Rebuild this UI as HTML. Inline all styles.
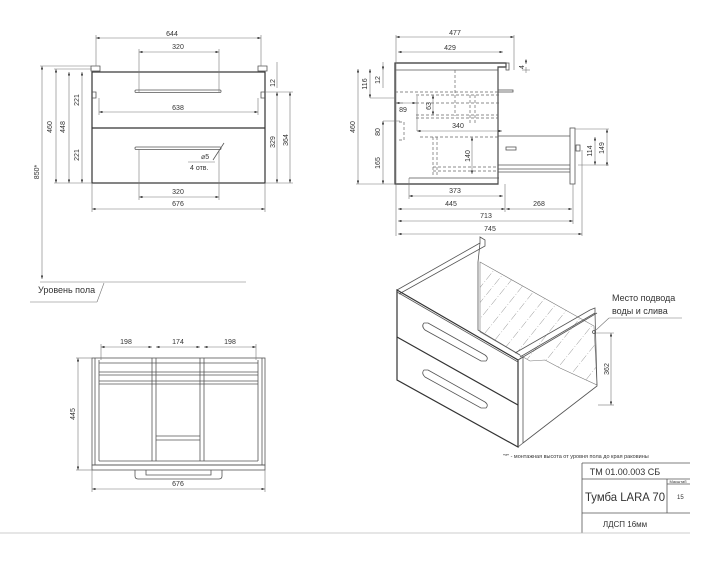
<!DOCTYPE html>
<html><head><meta charset="utf-8"><style>
html,body{margin:0;padding:0;background:#fff;}
svg{display:block;}
text{font-family:"Liberation Sans","DejaVu Sans",sans-serif;fill:#333;font-size:7px;}
.l{stroke:#555;stroke-width:0.8;fill:none;}
.t{stroke:#333;stroke-width:1.2;fill:none;}
.d{stroke:#777;stroke-width:0.6;fill:none;}
.ds{stroke:#666;stroke-width:0.7;fill:none;stroke-dasharray:3 2;}
.h{stroke:#888;stroke-width:0.5;fill:none;stroke-dasharray:8 2 1 2;}
</style></head><body>
<svg width="720" height="563" viewBox="0 0 720 563" xmlns="http://www.w3.org/2000/svg">
<defs><marker id="a" viewBox="0 0 6 4" refX="6" refY="2" markerWidth="6" markerHeight="4" orient="auto-start-reverse"><path d="M0,0L6,2L0,4z" fill="#333"/></marker>
<clipPath id="hc"><polygon points="480,262 594,326 597,385 560,368 545,360 530,361 480,332"/></clipPath></defs>

<!-- FRONT VIEW -->
<path class="l" d="M91,66h9v5h-9z M258,66h9v5h-9z"/>
<rect class="t" x="92" y="72" width="173" height="111"/>
<line class="t" x1="92" y1="128" x2="265" y2="128"/>
<rect class="l" x="135" y="90" width="86" height="2.5" rx="1"/>
<rect class="l" x="135" y="147" width="86" height="2.5" rx="1"/>
<path class="l" d="M92,92h4v6h-4 M265,92h-4v6h4"/>
<line class="l" x1="213" y1="160" x2="224" y2="143"/>
<text x="201" y="159">⌀5</text><text x="190" y="170">4 отв.</text>
<line class="d" x1="188" y1="162" x2="215" y2="162"/>
<g class="d">
<line x1="96" y1="38" x2="261" y2="38" marker-start="url(#a)" marker-end="url(#a)"/>
<line x1="96" y1="35" x2="96" y2="66"/><line x1="261" y1="35" x2="261" y2="66"/>
<line x1="139" y1="52" x2="219" y2="52" marker-start="url(#a)" marker-end="url(#a)"/>
<line x1="139" y1="49" x2="139" y2="92"/><line x1="219" y1="49" x2="219" y2="92"/>
<line x1="99" y1="112" x2="258" y2="112" marker-start="url(#a)" marker-end="url(#a)"/>
<line x1="99" y1="98" x2="99" y2="115"/><line x1="258" y1="98" x2="258" y2="115"/>
<line x1="139" y1="197" x2="219" y2="197" marker-start="url(#a)" marker-end="url(#a)"/>
<line x1="139" y1="149" x2="139" y2="200"/><line x1="219" y1="149" x2="219" y2="200"/>
<line x1="92" y1="209" x2="265" y2="209" marker-start="url(#a)" marker-end="url(#a)"/>
<line x1="92" y1="183" x2="92" y2="212"/><line x1="265" y1="183" x2="265" y2="212"/>
<line x1="42" y1="66" x2="42" y2="279" marker-start="url(#a)" marker-end="url(#a)"/>
<line x1="56" y1="69" x2="56" y2="183" marker-start="url(#a)" marker-end="url(#a)"/>
<line x1="69" y1="72" x2="69" y2="183" marker-start="url(#a)" marker-end="url(#a)"/>
<line x1="82" y1="72" x2="82" y2="183" marker-start="url(#a)" marker-end="url(#a)"/>
<line x1="40" y1="66" x2="91" y2="66"/><line x1="54" y1="69" x2="92" y2="69"/><line x1="54" y1="183" x2="92" y2="183"/>
<line x1="277" y1="62" x2="277" y2="88"/>
<line x1="277" y1="92" x2="277" y2="183" marker-start="url(#a)" marker-end="url(#a)"/>
<line x1="290" y1="92" x2="290" y2="183" marker-start="url(#a)" marker-end="url(#a)"/>
<line x1="265" y1="92" x2="293" y2="92"/><line x1="265" y1="183" x2="293" y2="183"/>
<line x1="40" y1="282" x2="246" y2="282"/>
<line x1="30" y1="302" x2="97" y2="302"/><line x1="97" y1="302" x2="104" y2="283"/>
</g>
<text x="172" y="36" text-anchor="middle">644</text>
<text x="178" y="49" text-anchor="middle">320</text>
<text x="178" y="110" text-anchor="middle">638</text>
<text x="178" y="194" text-anchor="middle">320</text>
<text x="178" y="206" text-anchor="middle">676</text>
<text x="38" y="293" style="font-size:9px">Уровень пола</text>
<g text-anchor="middle">
<text transform="translate(39,172) rotate(-90)">850*</text>
<text transform="translate(52,127) rotate(-90)">460</text>
<text transform="translate(65,127) rotate(-90)">448</text>
<text transform="translate(79,100) rotate(-90)">221</text>
<text transform="translate(79,155) rotate(-90)">221</text>
<text transform="translate(275,83) rotate(-90)">12</text>
<text transform="translate(275,142) rotate(-90)">329</text>
<text transform="translate(288,140) rotate(-90)">364</text>
</g>

<!-- SIDE VIEW -->
<path class="t" d="M395,63h111v4h-8v117h-103z"/>
<line class="l" x1="395" y1="70" x2="498" y2="70"/>
<line class="l" x1="498" y1="67" x2="498" y2="184"/>
<rect class="l" x="506" y="63" width="3" height="7"/>
<rect class="l" x="498" y="90" width="15" height="2"/>
<rect class="l" x="506" y="147" width="10" height="3"/>
<path class="ds" d="M455,70v46 M395,92h103 M416,95h85 M416,103h85 M416,115h82 M416,118h82 M470,95v30 M475,95v30 M395,103h10 M420,137h78 M433,137v40 M437,137v40 M433,167h65 M433,171h65"/>
<path class="l" d="M498,136h72 M498,165h72 M498,169h72 M498,172h72"/>
<rect class="l" x="570" y="128" width="5" height="56"/>
<rect class="l" x="576" y="145" width="4" height="6"/>
<path class="l" d="M409,178h90"/>
<path class="ds" d="M399,122h5v18h-5"/>
<g class="d">
<line x1="396" y1="37" x2="514" y2="37" marker-start="url(#a)" marker-end="url(#a)"/>
<line x1="398" y1="52" x2="503" y2="52" marker-start="url(#a)" marker-end="url(#a)"/>
<line x1="409" y1="196" x2="503" y2="196" marker-start="url(#a)" marker-end="url(#a)"/>
<line x1="398" y1="209" x2="505" y2="209" marker-start="url(#a)" marker-end="url(#a)"/>
<line x1="506" y1="209" x2="572" y2="209" marker-start="url(#a)" marker-end="url(#a)"/>
<line x1="398" y1="221" x2="573" y2="221" marker-start="url(#a)" marker-end="url(#a)"/>
<line x1="398" y1="234" x2="582" y2="234" marker-start="url(#a)" marker-end="url(#a)"/>
<line x1="396" y1="35" x2="396" y2="236"/><line x1="514" y1="35" x2="514" y2="70"/>
<line x1="409" y1="178" x2="409" y2="199"/><line x1="505" y1="184" x2="505" y2="212"/>
<line x1="573" y1="184" x2="573" y2="224"/><line x1="582" y1="150" x2="582" y2="236"/>
<line x1="358" y1="69" x2="358" y2="184" marker-start="url(#a)" marker-end="url(#a)"/>
<line x1="356" y1="184" x2="395" y2="184"/>
<line x1="370" y1="69" x2="370" y2="98" marker-start="url(#a)" marker-end="url(#a)"/>
<line x1="383" y1="62" x2="383" y2="70" marker-end="url(#a)"/>
<line x1="383" y1="70" x2="383" y2="88"/>
<line x1="370" y1="98" x2="395" y2="98"/>
<line x1="383" y1="121" x2="383" y2="184" marker-start="url(#a)" marker-end="url(#a)"/>
<line x1="383" y1="121" x2="400" y2="121"/>
<line x1="396" y1="103" x2="416" y2="103" marker-start="url(#a)" marker-end="url(#a)"/>
<line x1="433" y1="95" x2="433" y2="115" marker-start="url(#a)" marker-end="url(#a)"/>
<line x1="417" y1="131" x2="502" y2="131" marker-start="url(#a)" marker-end="url(#a)"/>
<line x1="417" y1="96" x2="417" y2="131"/>
<line x1="472" y1="137" x2="472" y2="174" marker-start="url(#a)" marker-end="url(#a)"/>
<line x1="526" y1="67" x2="526" y2="73"/><line x1="526" y1="59" x2="526" y2="64" marker-end="url(#a)"/>
<line x1="522" y1="70" x2="530" y2="70"/>
<line x1="595" y1="137" x2="595" y2="165" marker-start="url(#a)" marker-end="url(#a)"/>
<line x1="607" y1="129" x2="607" y2="166" marker-start="url(#a)" marker-end="url(#a)"/>
<line x1="575" y1="129" x2="609" y2="129"/><line x1="578" y1="165" x2="609" y2="165"/>
</g>
<text x="455" y="35" text-anchor="middle">477</text>
<text x="450" y="50" text-anchor="middle">429</text>
<text x="455" y="193" text-anchor="middle">373</text>
<text x="451" y="206" text-anchor="middle">445</text>
<text x="539" y="206" text-anchor="middle">268</text>
<text x="486" y="218" text-anchor="middle">713</text>
<text x="490" y="231" text-anchor="middle">745</text>
<text x="403" y="112" text-anchor="middle">89</text>
<text x="458" y="128" text-anchor="middle">340</text>
<g text-anchor="middle">
<text transform="translate(355,127) rotate(-90)">460</text>
<text transform="translate(367,84) rotate(-90)">116</text>
<text transform="translate(380,80) rotate(-90)">12</text>
<text transform="translate(380,132) rotate(-90)">80</text>
<text transform="translate(380,163) rotate(-90)">165</text>
<text transform="translate(431,106) rotate(-90)">63</text>
<text transform="translate(470,156) rotate(-90)">140</text>
<text transform="translate(524,67) rotate(-90)">4</text>
<text transform="translate(592,151) rotate(-90)">114</text>
<text transform="translate(604,148) rotate(-90)">149</text>
</g>

<!-- ISO VIEW -->
<g class="h" clip-path="url(#hc)">
<path d="M470,300l40,-50 M470,315l50,-62 M475,325l55,-68 M485,333l60,-75 M495,340l62,-78 M505,348l64,-80 M515,355l66,-82 M525,362l68,-85 M540,368l60,-75 M552,375l50,-62 M565,382l40,-50 M578,390l30,-38"/>
</g>
<polygon points="480,262 594,326 597,385 560,368 545,360 530,361 480,332" class="d"/>
<path class="l" d="M397,290 L480,243 L480,237 L485,240 L485,246 L399,294"/>
<path class="l" d="M480,243 L478,262 L478,330 L520,355"/>
<path class="l" d="M520,357 L595,313 L595,308 L590,310 L515,353"/>
<path class="l" d="M595,313 L597,386 L523,443"/>
<path class="l" d="M518,360 L597,313"/>
<polygon class="t" points="397,290 518,360 518,447 397,380"/>
<line class="l" x1="518" y1="360" x2="523" y2="357"/><line class="l" x1="523" y1="357" x2="523" y2="443"/><line class="l" x1="518" y1="447" x2="523" y2="443"/>
<line class="t" x1="397" y1="337" x2="518" y2="405"/>
<path class="l" d="M397,292 L518,362"/>
<path class="l" d="M428,323 L485,355 Q489,358 486,361 L481,361 L425,330 Q421,326 424,323z"/>
<path class="l" d="M428,370 L485,402 Q489,405 486,408 L481,408 L425,377 Q421,373 424,370z"/>
<g class="d">
<line x1="611" y1="333" x2="611" y2="405" marker-start="url(#a)" marker-end="url(#a)"/>
<line x1="596" y1="333" x2="614" y2="333"/><line x1="598" y1="405" x2="614" y2="405"/>
<line x1="596" y1="330" x2="609" y2="318"/><line x1="609" y1="318" x2="682" y2="318"/>
</g>
<circle cx="594" cy="332" r="1.5" class="l"/>
<text transform="translate(609,369) rotate(-90)" text-anchor="middle">362</text>
<text x="612" y="301" style="font-size:9px">Место подвода</text>
<text x="612" y="314" style="font-size:9px">воды и слива</text>
<text x="503" y="458" style="font-size:5.5px">"*" - монтажная высота от уровня пола до края раковины</text>

<!-- BOTTOM VIEW -->
<g class="l">
<rect x="92" y="358" width="173" height="107"/>
<line x1="95" y1="358" x2="95" y2="465"/><line x1="262" y1="358" x2="262" y2="465"/>
<line x1="99" y1="360" x2="99" y2="461"/><line x1="258" y1="360" x2="258" y2="461"/>
<line x1="99" y1="363" x2="258" y2="363"/><line x1="99" y1="372" x2="258" y2="372"/>
<line x1="99" y1="375" x2="258" y2="375"/><line x1="99" y1="381" x2="258" y2="381"/><line x1="99" y1="384" x2="258" y2="384"/>
<line x1="152" y1="358" x2="152" y2="461"/><line x1="156" y1="358" x2="156" y2="461"/>
<line x1="200" y1="358" x2="200" y2="461"/><line x1="204" y1="358" x2="204" y2="461"/>
<line x1="156" y1="436" x2="200" y2="436"/><line x1="156" y1="440" x2="200" y2="440"/>
<line x1="99" y1="461" x2="258" y2="461"/>
<rect x="92" y="465" width="173" height="5"/>
<path d="M135,470v6q0,3 3,3h81q3,0 3,-3v-6 M146,470v5h65v-5"/>
</g>
<g class="d">
<line x1="101" y1="347" x2="152" y2="347" marker-start="url(#a)" marker-end="url(#a)"/>
<line x1="156" y1="347" x2="200" y2="347" marker-start="url(#a)" marker-end="url(#a)"/>
<line x1="204" y1="347" x2="256" y2="347" marker-start="url(#a)" marker-end="url(#a)"/>
<line x1="101" y1="344" x2="101" y2="360"/><line x1="256" y1="344" x2="256" y2="360"/>
<line x1="78" y1="358" x2="78" y2="470" marker-start="url(#a)" marker-end="url(#a)"/>
<line x1="76" y1="358" x2="92" y2="358"/><line x1="76" y1="470" x2="92" y2="470"/>
<line x1="92" y1="489" x2="265" y2="489" marker-start="url(#a)" marker-end="url(#a)"/>
<line x1="92" y1="470" x2="92" y2="492"/><line x1="265" y1="470" x2="265" y2="492"/>
</g>
<text x="126" y="344" text-anchor="middle">198</text>
<text x="178" y="344" text-anchor="middle">174</text>
<text x="230" y="344" text-anchor="middle">198</text>
<text x="178" y="486" text-anchor="middle">676</text>
<text transform="translate(75,414) rotate(-90)" text-anchor="middle">445</text>

<!-- TITLE BLOCK -->
<g class="l">
<line x1="582" y1="463" x2="690" y2="463"/>
<line x1="582" y1="463" x2="582" y2="533"/>
<line x1="582" y1="479" x2="690" y2="479"/>
<line x1="582" y1="513" x2="690" y2="513"/>
<line x1="667" y1="479" x2="667" y2="513"/>
<line x1="667" y1="484" x2="690" y2="484"/>
</g>
<line x1="0" y1="533" x2="690" y2="533" stroke="#bbb" stroke-width="0.8"/>
<text x="625" y="475" text-anchor="middle" style="font-size:9px">ТМ 01.00.003 СБ</text>
<text x="625" y="501" text-anchor="middle" style="font-size:12px" textLength="80" lengthAdjust="spacingAndGlyphs">Тумба LARA 70</text>
<text x="678" y="483" text-anchor="middle" style="font-size:4px">Масштаб</text>
<text x="677" y="499" style="font-size:6px">15</text>
<text x="625" y="527" text-anchor="middle" style="font-size:8px">ЛДСП 16мм</text>
</svg>
</body></html>
